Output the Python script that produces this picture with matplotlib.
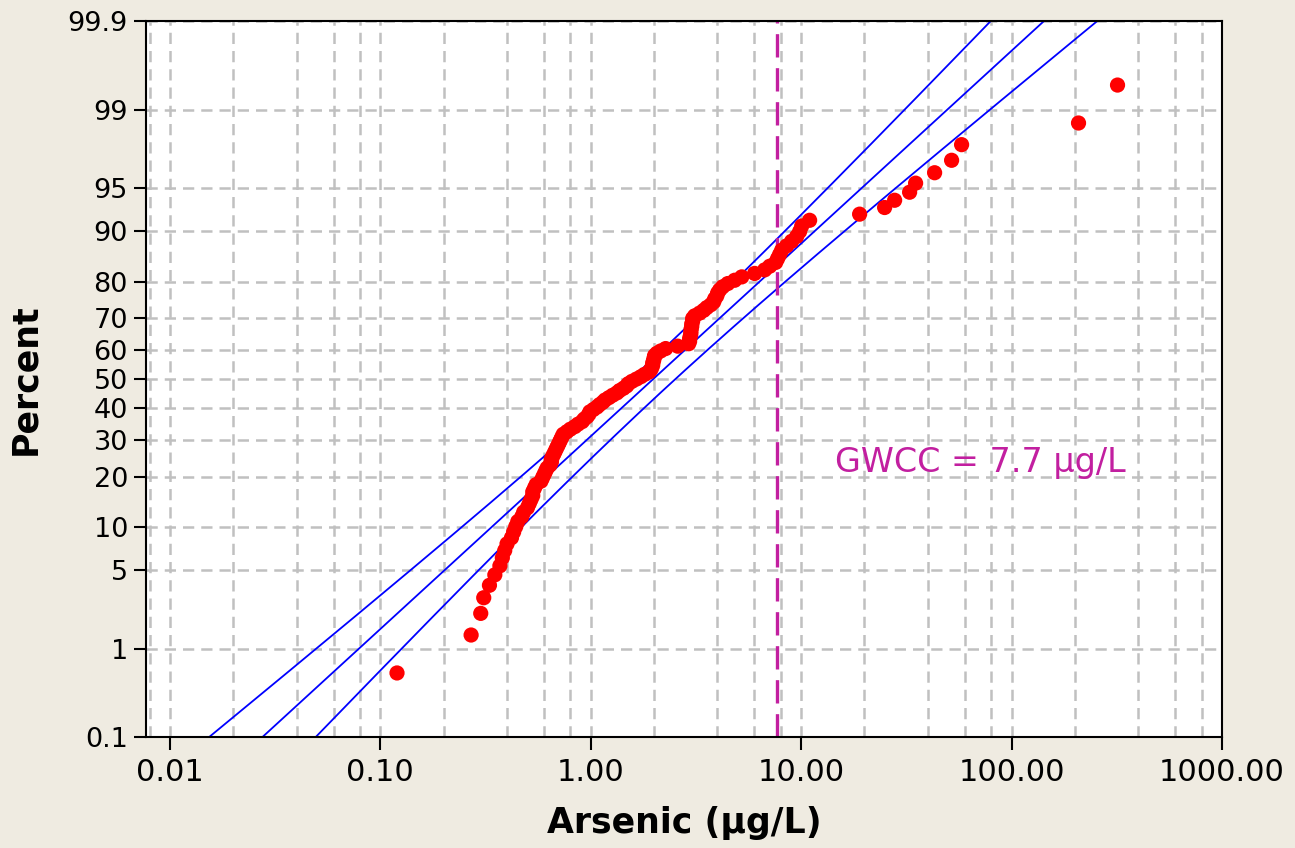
import math
import matplotlib
matplotlib.use("Agg")
import matplotlib.pyplot as plt
import numpy as np
from matplotlib.ticker import FixedLocator, LogLocator, NullFormatter

# sorted arsenic concentrations (ug/L)
arsenic = [
    0.12, 0.27, 0.30, 0.31, 0.33, 0.35, 0.37, 0.38, 0.39, 0.40,
    0.42, 0.43, 0.44, 0.45, 0.47, 0.48, 0.50, 0.51, 0.52, 0.53,
    0.53, 0.54, 0.55, 0.58, 0.59, 0.60, 0.61, 0.62, 0.64, 0.65,
    0.65, 0.66, 0.67, 0.68, 0.69, 0.70, 0.71, 0.72, 0.73, 0.74,
    0.77, 0.80, 0.84, 0.87, 0.91, 0.93, 0.96, 0.98, 0.99, 1.03,
    1.07, 1.10, 1.14, 1.17, 1.22, 1.27, 1.33, 1.37, 1.43, 1.48,
    1.51, 1.57, 1.65, 1.73, 1.80, 1.89, 1.93, 1.95, 1.97, 1.97,
    1.99, 2.00, 2.01, 2.06, 2.15, 2.27, 2.59, 2.92, 2.95, 2.95,
    2.97, 2.99, 2.99, 3.00, 3.02, 3.02, 3.05, 3.05, 3.12, 3.29,
    3.44, 3.56, 3.72, 3.84, 3.88, 3.97, 4.01, 4.10, 4.24, 4.48,
    4.83, 5.22, 6.01, 6.71, 7.09, 7.57, 7.73, 7.90, 8.08, 8.53,
    9.01, 9.52, 9.84, 10.06, 10.97, 18.96, 24.93, 27.81, 32.77, 34.99,
    43.08, 51.88, 57.88, 208.1, 318.9,
]

# lognormal fit (log10 units) shown by the blue lines, 95% CI
fit_loc = 0.297
fit_scale = 0.601
ci_z = 1.96

gwcc = 7.7

pct_ticks = [0.1, 1, 5, 10, 20, 30, 40, 50, 60, 70, 80, 90, 95, 99, 99.9]
pct_labels = ["0.1", "1", "5", "10", "20", "30", "40", "50", "60", "70",
              "80", "90", "95", "99", "99.9"]
x_ticks = [0.01, 0.1, 1, 10, 100, 1000]
x_labels = ["0.01", "0.10", "1.00", "10.00", "100.00", "1000.00"]

# normal cdf table for the probability scale
z_tab = np.linspace(-6, 6, 12001)
cdf_tab = np.array([0.5 * math.erfc(-z / math.sqrt(2)) for z in z_tab])


def pct_to_z(p):
    p = np.clip(np.asarray(p, dtype=float) / 100.0, cdf_tab[0], cdf_tab[-1])
    return np.interp(p, cdf_tab, z_tab)


def z_to_pct(z):
    return 100.0 * np.interp(np.asarray(z, dtype=float), z_tab, cdf_tab)


n = len(arsenic)
ranks = np.arange(1, n + 1)
plot_pos = (ranks - 0.3) / (n + 0.4) * 100

zz = np.linspace(pct_to_z(0.1), pct_to_z(99.9), 200)
center = fit_loc + zz * fit_scale
half = ci_z * fit_scale * np.sqrt(1 / n + zz ** 2 / (2 * n))
pp = z_to_pct(zz)

fig = plt.figure(figsize=(12.95, 8.48), dpi=100, facecolor="#EFEBE1")
ax = fig.add_axes([0.1127, 0.1309, 0.8309, 0.8443])
ax.set_facecolor("white")

ax.set_xscale("log")
ax.set_yscale("function", functions=(pct_to_z, z_to_pct))
ax.set_xlim(0.00769, 1000)
ax.set_ylim(0.1, 99.9)

grid_kw = dict(color="#C0C0C0", linestyle=(0, (4.5, 2.8)), linewidth=1.8)
ax.set_axisbelow(True)
ax.xaxis.set_minor_locator(LogLocator(base=10, subs=[2, 4, 6, 8], numticks=20))
ax.xaxis.set_minor_formatter(NullFormatter())
ax.grid(which="both", axis="x", **grid_kw)
ax.grid(which="major", axis="y", **grid_kw)

ax.plot(10 ** center, pp, color="#0000FF", linewidth=1.3)
ax.plot(10 ** (center - half), pp, color="#0000FF", linewidth=1.3)
ax.plot(10 ** (center + half), pp, color="#0000FF", linewidth=1.3)

ax.scatter(arsenic, plot_pos, s=120, color="#FF0000", edgecolors="none", zorder=3)

ax.axvline(gwcc, color="#C21FA0", linewidth=2.4, linestyle=(0, (7, 3.2)), zorder=2)
ax.text(0.640, 0.384, "GWCC = 7.7 µg/L", transform=ax.transAxes,
        color="#C21FA0", fontsize=24, va="center", ha="left")

ax.xaxis.set_major_locator(FixedLocator(x_ticks))
ax.set_xticklabels(x_labels, fontsize=22)
ax.yaxis.set_major_locator(FixedLocator(pct_ticks))
ax.yaxis.set_minor_locator(FixedLocator([]))
ax.set_yticklabels(pct_labels, fontsize=19.5)

ax.tick_params(axis="both", which="major", direction="out", length=9,
               width=1.5, color="black")
ax.tick_params(axis="x", which="major", pad=6)
ax.tick_params(axis="y", which="major", pad=4)
ax.tick_params(axis="x", which="minor", length=0)

for side in ["left", "right", "top", "bottom"]:
    ax.spines[side].set_linewidth(1.5)
    ax.spines[side].set_color("black")

ax.set_xlabel("Arsenic (µg/L)", fontsize=25, fontweight="bold", labelpad=14)
ax.set_ylabel("Percent", fontsize=25, fontweight="bold", labelpad=18)

fig.savefig("out.png", dpi=100, facecolor=fig.get_facecolor())
